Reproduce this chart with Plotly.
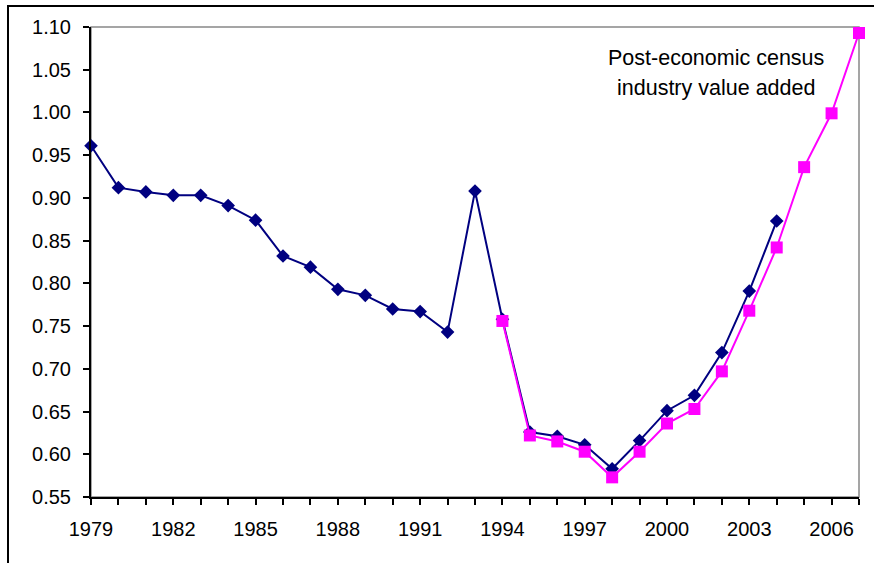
import plotly.graph_objects as go

years_a = list(range(1979, 2005))
series_a = [0.961, 0.912, 0.907, 0.903, 0.903, 0.891, 0.874, 0.832, 0.819, 0.793,
            0.786, 0.770, 0.767, 0.743, 0.908, 0.758, 0.626, 0.621, 0.611, 0.583,
            0.616, 0.651, 0.669, 0.719, 0.791, 0.873]

years_b = list(range(1994, 2008))
series_b = [0.756, 0.622, 0.615, 0.603, 0.573, 0.603, 0.636, 0.653, 0.697, 0.768,
            0.842, 0.936, 0.999, 1.093]

x_tick_years = list(range(1979, 2008))
x_tick_labels = [str(y) if (y - 1979) % 3 == 0 else "" for y in x_tick_years]
y_ticks = [0.55, 0.60, 0.65, 0.70, 0.75, 0.80, 0.85, 0.90, 0.95, 1.00, 1.05, 1.10]

annotation_lines = ["Post-economic census", "industry value added"]

FONT = "Liberation Sans, Arial, sans-serif"

fig = go.Figure()
fig.add_trace(go.Scatter(
    x=years_a, y=series_a, mode="lines+markers",
    line=dict(color="#000080", width=2),
    marker=dict(symbol="diamond", size=10.5, color="#000080"),
    cliponaxis=False, showlegend=False))
fig.add_trace(go.Scatter(
    x=years_b, y=series_b, mode="lines+markers",
    line=dict(color="#FF00FF", width=2),
    marker=dict(symbol="square", size=12, color="#FF00FF"),
    cliponaxis=False, showlegend=False))

W, H = 874, 563
L, R, T, B = 91, 15, 27, 66
pw, ph = W - L - R, H - T - B

def px_x(x):
    return (x - L) / pw

def px_y(y):
    return (H - B - y) / ph

# plot-area frame (grey) and outer chart frame (black)
fig.add_shape(type="rect", xref="paper", yref="paper", x0=0, x1=1, y0=0, y1=1,
              line=dict(color="#888888", width=1.5), layer="below")
fig.add_shape(type="rect", xref="paper", yref="paper",
              x0=px_x(8), x1=px_x(880), y0=px_y(570), y1=px_y(6),
              line=dict(color="black", width=2), layer="below")

fig.add_annotation(x=px_x(716), y=px_y(58), xref="paper", yref="paper",
                   text=annotation_lines[0], showarrow=False,
                   font=dict(family=FONT, size=21.5, color="black"),
                   xanchor="center", yanchor="middle")
fig.add_annotation(x=px_x(716), y=px_y(88), xref="paper", yref="paper",
                   text=annotation_lines[1], showarrow=False,
                   font=dict(family=FONT, size=21.5, color="black"),
                   xanchor="center", yanchor="middle")

fig.update_layout(
    width=W, height=H,
    margin=dict(l=L, r=R, t=T, b=B),
    paper_bgcolor="white", plot_bgcolor="white",
    font=dict(family=FONT, size=20, color="black"),
    xaxis=dict(range=[1979, 2007], tickmode="array", tickvals=x_tick_years,
               ticktext=x_tick_labels, ticks="outside", ticklen=6, tickwidth=1.5,
               tickcolor="black", showline=True, linecolor="black", linewidth=2,
               showgrid=False, zeroline=False, ticklabelstandoff=7),
    yaxis=dict(range=[0.55, 1.10], tickmode="array", tickvals=y_ticks,
               ticktext=[f"{v:.2f}" for v in y_ticks], ticks="outside", ticklen=6,
               tickwidth=1.5, tickcolor="black", showline=True, linecolor="black",
               linewidth=2, showgrid=False, zeroline=False, ticklabelstandoff=8),
)

fig.write_html("out.html", config={"displayModeBar": False},
               post_script="document.body.style.margin='0';")
